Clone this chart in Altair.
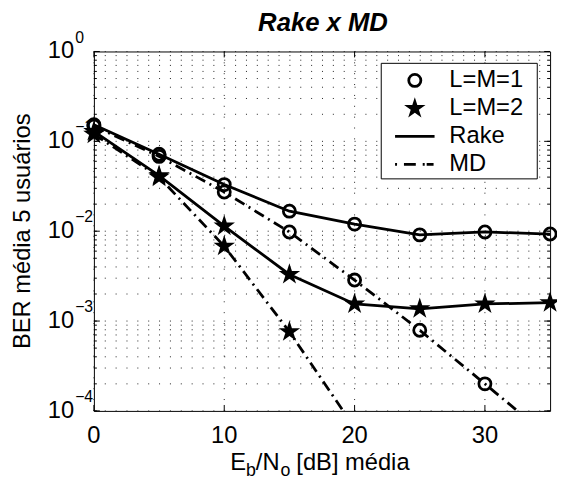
import math
import altair as alt
import pandas as pd

# ---------------- data ----------------
snr_db = [0, 5, 10, 15, 20, 25, 30, 35]
rake_l1 = [0.153, 0.0718, 0.033, 0.0167, 0.012, 0.0091, 0.0098, 0.0093]
md_l1 = [0.148, 0.068, 0.0273, 0.0098, 0.00286, 0.00079, 0.0002, 0.00005]
rake_l2 = [0.129, 0.0415, 0.0114, 0.0033, 0.00155, 0.00137, 0.00155, 0.0016]
snr_db_md2 = [0, 5, 10, 15, 20]
md_l2 = [0.12, 0.04, 0.0068, 0.00076, 0.000065]

y_tick_vals = [1, 0.1, 0.01, 0.001, 0.0001]
y_tick_exps = ["0", "\u22121", "\u22122", "\u22123", "\u22124"]
x_tick_vals = [0, 10, 20, 30]
x_tick_labels = ["0", "10", "20", "30"]
legend_labels = ["L=M=1", "L=M=2", "Rake", "MD"]
title_text = "Rake x MD"
ylabel_text = "BER m\u00e9dia 5 usu\u00e1rios"

# ---------------- derived tables ----------------
rows = []
for s, xs_, ys_, sch, mk in [
    ("rake1", snr_db, rake_l1, "Rake", "circle"),
    ("md1", snr_db, md_l1, "MD", "circle"),
    ("rake2", snr_db, rake_l2, "Rake", "star"),
    ("md2", snr_db_md2, md_l2, "MD", "star"),
]:
    for xv, yv in zip(xs_, ys_):
        rows.append({"series": s, "scheme": sch, "marker": mk, "dB": xv, "ber": yv})
df = pd.DataFrame(rows)

minor = []
for k in range(-4, 0):
    for m in range(1, 10):
        minor.append(round(m * 10 ** k, 10))
minor.append(1.0)
grid_df = pd.DataFrame({"ber": minor})
major_df = pd.DataFrame({"ber": y_tick_vals})
vgrid_df = pd.DataFrame({"dB": x_tick_vals, "lab": x_tick_labels})
ytick_df = pd.DataFrame({"ber": y_tick_vals, "exp": y_tick_exps})

W, H = 462, 364
FONT = "Liberation Sans"

pts = []
for i in range(10):
    a = math.radians(-90 + 36 * i)
    r = 1.0 if i % 2 == 0 else 0.38
    pts.append(f"{r * math.cos(a):.4f},{r * math.sin(a):.4f}")
STAR = "M" + " L".join(pts) + " Z"
STAR_SIZE = 520

xs = alt.Scale(domain=[0, 35], nice=False, zero=False)
ys = alt.Scale(type="log", domain=[0.0001, 1], nice=False)


def X():
    return alt.X("dB:Q", scale=xs, axis=None)


def Y():
    return alt.Y("ber:Q", scale=ys, axis=None)


# grids
hgrid = alt.Chart(grid_df).mark_rule(color="#222", strokeWidth=1, strokeDash=[1, 10]).encode(
    y=Y(), x=alt.value(0), x2=alt.value(W)
)
vgrid = alt.Chart(vgrid_df).mark_rule(color="#222", strokeWidth=1, strokeDash=[1, 10]).encode(
    x=X(), y=alt.value(0), y2=alt.value(H)
)

# ticks
def ytick(data, x0, x1):
    return alt.Chart(data).mark_rule(color="black", strokeWidth=1).encode(
        y=Y(), x=alt.value(x0), x2=alt.value(x1)
    )

ticks = [
    ytick(grid_df, 0, 3), ytick(grid_df, W, W - 3),
    ytick(major_df, 0, 6), ytick(major_df, W, W - 6),
    alt.Chart(vgrid_df).mark_rule(color="black", strokeWidth=1).encode(
        x=X(), y=alt.value(H), y2=alt.value(H - 6)),
    alt.Chart(vgrid_df).mark_rule(color="black", strokeWidth=1).encode(
        x=X(), y=alt.value(0), y2=alt.value(6)),
]

# lines
rake_lines = alt.Chart(df).transform_filter("datum.scheme == 'Rake'").mark_line(
    color="black", strokeWidth=2.8, clip=True
).encode(x=X(), y=Y(), detail="series:N")
md_lines = alt.Chart(df).transform_filter("datum.scheme == 'MD'").mark_line(
    color="black", strokeWidth=2.8, strokeDash=[11, 5, 2, 5], clip=True
).encode(x=X(), y=Y(), detail="series:N")

circles = alt.Chart(df).transform_filter("datum.marker == 'circle' && datum.ber >= 0.0001").mark_point(
    shape="circle", filled=False, color="black", strokeWidth=2.8, size=150, opacity=1
).encode(x=X(), y=Y())
stars = alt.Chart(df).transform_filter("datum.marker == 'star' && datum.ber >= 0.0001").mark_point(
    shape=STAR, filled=True, color="black", size=STAR_SIZE, opacity=1
).encode(x=X(), y=Y())

# tick labels
xlabs = alt.Chart(vgrid_df).mark_text(font=FONT, fontSize=24, align="center", baseline="top",
                                       color="black").encode(
    x=X(), y=alt.value(H + 13), text="lab:N"
)
ylab10 = alt.Chart(ytick_df).mark_text(font=FONT, fontSize=24, align="right", baseline="middle",
                                        color="black").encode(
    y=Y(), x=alt.value(-20), text=alt.value("10")
)
ylabexp = alt.Chart(ytick_df).mark_text(font=FONT, fontSize=16, align="left", baseline="middle",
                                         color="black", dy=-14).encode(
    y=Y(), x=alt.value(-19), text="exp:N"
)

# legend
one = pd.DataFrame({"t": [title_text]})
LX0, LX1, LY0, LY1 = 291, 449, 12, 129
rows_y = [29.3, 57.7, 86, 114.3]
leg_box = alt.Chart(one).mark_rect(fill="white", stroke="black", strokeWidth=1).encode(
    x=alt.value(LX0), x2=alt.value(LX1), y=alt.value(LY0), y2=alt.value(LY1)
)
leg_c = alt.Chart(one).mark_point(shape="circle", filled=False, color="black", strokeWidth=2.8,
                                   size=150, opacity=1).encode(x=alt.value(325), y=alt.value(rows_y[0]))
leg_s = alt.Chart(one).mark_point(shape=STAR, filled=True, color="black", size=STAR_SIZE,
                                   opacity=1).encode(x=alt.value(325), y=alt.value(rows_y[1]))
leg_l1 = alt.Chart(one).mark_rule(color="black", strokeWidth=2.8).encode(
    x=alt.value(305), x2=alt.value(345), y=alt.value(rows_y[2]))
leg_l2 = alt.Chart(one).mark_rule(color="black", strokeWidth=2.8, strokeDash=[2, 7, 12, 7, 2]).encode(
    x=alt.value(305), x2=alt.value(345), y=alt.value(rows_y[3]))
leg_df = pd.DataFrame({"label": legend_labels, "ly": rows_y})
leg_txt = alt.Chart(leg_df).mark_text(font=FONT, fontSize=24, align="left", baseline="middle",
                                       color="black").encode(
    x=alt.value(360), y=alt.Y("ly:Q", scale=None, axis=None), text="label:N"
)

# title and axis titles
title = alt.Chart(one).mark_text(font=FONT, fontSize=26, fontWeight="bold", fontStyle="italic",
                                  align="center", baseline="alphabetic", color="black").encode(
    x=alt.value(232), y=alt.value(-21), text="t:N"
)
ylab = alt.Chart(pd.DataFrame({"t": [ylabel_text]})).mark_text(
    font=FONT, fontSize=24, angle=270, align="center", baseline="alphabetic", color="black"
).encode(x=alt.value(-65), y=alt.value(182), text="t:N")

xl_parts = pd.DataFrame({
    "t": ["E", "b", "/N", "o", "[dB] m\u00e9dia"],
    "px": [138, 154, 164, 189, 205],
    "py": [424, 430, 424, 430, 424],
    "fs": [24, 18, 24, 18, 24],
})
xlab = alt.Chart(xl_parts).mark_text(font=FONT, align="left", baseline="alphabetic", color="black").encode(
    x=alt.X("px:Q", scale=None, axis=None),
    y=alt.Y("py:Q", scale=None, axis=None),
    text="t:N",
    size=alt.Size("fs:Q", scale=None, legend=None),
)

chart = alt.layer(
    vgrid, hgrid, *ticks,
    rake_lines, md_lines, circles, stars,
    xlabs, ylab10, ylabexp,
    leg_box, leg_c, leg_s, leg_l1, leg_l2, leg_txt,
    title, ylab, xlab,
).properties(
    width=W, height=H,
    autosize=alt.AutoSizeParams(type="none"),
    padding={"left": 87, "top": 41, "right": 7, "bottom": 72},
    background="white",
).configure_view(stroke="black", strokeWidth=1)

chart.save("out.html", embed_options={"renderer": "svg", "actions": False})
